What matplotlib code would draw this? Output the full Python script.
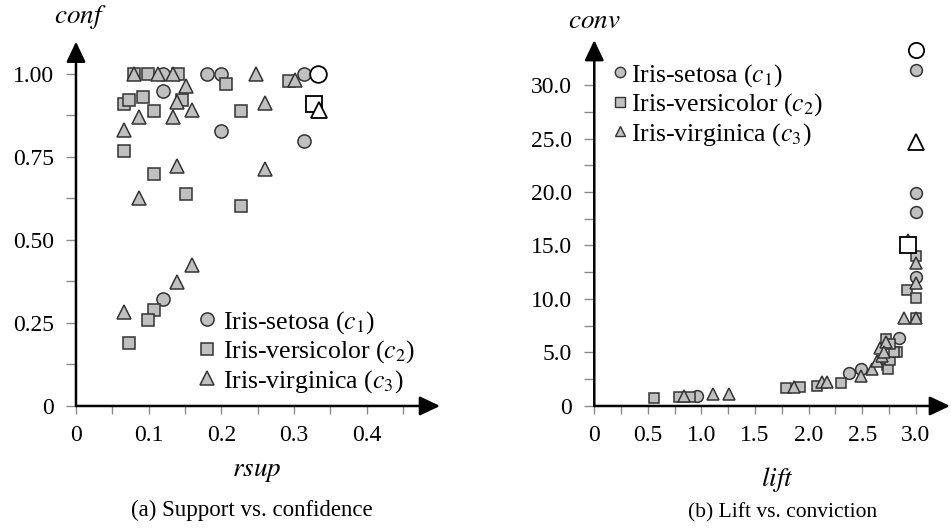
import numpy as np
import matplotlib
matplotlib.use('Agg')
import matplotlib.pyplot as plt
from matplotlib.lines import Line2D

plt.rcParams['font.family'] = ['Liberation Serif', 'DejaVu Serif']
plt.rcParams['mathtext.fontset'] = 'stix'
TICK_FS = 17
LEG_FS = 18.5
LAB_FS = 19.5
CAP_FS = 16.5

# (a) relative support vs confidence
setosa_rsup = [0.120, 0.120, 0.180, 0.200, 0.200, 0.313, 0.313, 0.120]
setosa_conf = [1.00, 0.949, 1.00, 1.00, 0.828, 1.00, 0.799, 0.321]
versicolor_rsup = [0.080, 0.0995, 0.140, 0.207, 0.293, 0.0665, 0.0726, 0.0926, 0.107,
                   0.146, 0.2265, 0.0665, 0.107, 0.152, 0.227, 0.107, 0.0995, 0.0726]
versicolor_conf = [1.00, 1.00, 1.00, 0.969, 0.979, 0.909, 0.920, 0.929, 0.889,
                   0.920, 0.889, 0.769, 0.699, 0.639, 0.603, 0.289, 0.259, 0.189]
virginica_rsup = [0.080, 0.113, 0.134, 0.247, 0.301, 0.152, 0.139, 0.160, 0.260,
                  0.087, 0.133, 0.0665, 0.139, 0.260, 0.087, 0.160, 0.139, 0.0665]
virginica_conf = [1.00, 1.00, 1.00, 1.00, 0.982, 0.962, 0.915, 0.892, 0.912,
                  0.871, 0.871, 0.831, 0.723, 0.713, 0.626, 0.423, 0.373, 0.282]
# highlighted rules (one per class)
best_rsup = [0.333, 0.328, 0.334]
best_conf = [1.00, 0.909, 0.892]

# (b) lift vs conviction
setosa_lift = [0.956, 2.38, 2.49, 2.84, 3.0, 3.0, 3.0, 3.0]
setosa_conv = [0.90, 3.05, 3.5, 6.4, 12.1, 18.1, 19.9, 31.4]
versicolor_lift = [0.56, 0.79, 0.89, 1.79, 1.92, 2.08, 2.30, 2.73, 2.74, 2.76, 2.82,
                   2.80, 2.72, 3.0, 2.92, 3.0, 3.0, 2.76]
versicolor_conv = [0.75, 0.84, 0.87, 1.65, 1.74, 1.90, 2.18, 3.8, 3.5, 4.3, 5.07,
                   5.0, 6.3, 8.2, 10.8, 10.1, 14.0, 5.8]
virginica_lift = [0.84, 1.11, 1.26, 1.86, 2.12, 2.17, 2.49, 2.59, 2.64, 2.68, 2.67,
                  2.72, 2.89, 3.0, 3.0, 3.0, 2.93, 2.70]
virginica_conv = [0.90, 1.09, 1.15, 1.74, 2.27, 2.27, 2.78, 3.5, 4.2, 4.7, 5.4,
                  6.0, 8.2, 8.2, 11.5, 13.4, 15.5, 5.0]
best_lift = [3.0, 2.93, 3.0]
best_conv = [33.3, 15.0, 24.7]

labels = ['Iris-setosa ($c_1$)', 'Iris-versicolor ($c_2$)', 'Iris-virginica ($c_3$)']
markers = ['o', 's', '^']
FILL = '#c0c0c0'
EDGE = '#333333'


def style_axes(ax, xmax, ymax, xmaj, xmin_t, ymaj, ymin_t, xfmt, yfmt):
    ax.set_xlim(0, xmax)
    ax.set_ylim(0, ymax)
    for s in ax.spines.values():
        s.set_visible(False)
    ax.set_xticks(xmaj)
    ax.set_xticklabels([xfmt(v) for v in xmaj])
    ax.set_xticks(xmin_t, minor=True)
    ax.set_yticks(ymaj)
    ax.set_yticklabels([yfmt(v) for v in ymaj])
    ax.set_yticks(ymin_t, minor=True)
    ax.tick_params(axis='both', which='both', color='#8a8a8a', width=1.0,
                   labelsize=TICK_FS, direction='out')
    ax.tick_params(axis='x', which='both', length=6, pad=8)
    ax.tick_params(axis='y', which='both', length=7, pad=9)
    arrow = dict(arrowstyle='-|>,head_length=0.95,head_width=0.45', color='black',
                 lw=1.8, mutation_scale=13, shrinkA=0, shrinkB=0)
    ax.annotate('', xy=(1, 0), xytext=(0, 0), xycoords='axes fraction',
                textcoords='axes fraction', arrowprops=arrow, annotation_clip=False)
    ax.annotate('', xy=(0, 1), xytext=(0, 0), xycoords='axes fraction',
                textcoords='axes fraction', arrowprops=arrow, annotation_clip=False)


fig = plt.figure(figsize=(9.51, 5.28), dpi=100)
ax1 = fig.add_axes([0.0799, 0.2311, 0.3828, 0.690])
ax2 = fig.add_axes([0.6249, 0.2311, 0.374, 0.693])

# left panel
series_a = [(setosa_rsup, setosa_conf), (versicolor_rsup, versicolor_conf),
            (virginica_rsup, virginica_conf)]
for (xs, ys), m in zip(series_a, markers):
    ax1.plot(xs, ys, m, ms=9.5 if m != 's' else 8.5, mfc=FILL, mec=EDGE, mew=1.1,
             ls='none', clip_on=False)
for x, y, m in zip(best_rsup, best_conf, markers):
    ax1.plot(x, y, m, ms=12, mfc='white', mec='black', mew=1.3, ls='none', clip_on=False)

style_axes(ax1, 0.5007, 1.097,
           [0, 0.1, 0.2, 0.3, 0.4], [0.05, 0.15, 0.25, 0.35, 0.45],
           [0, 0.25, 0.5, 0.75, 1.0], [0.125, 0.375, 0.625, 0.875],
           lambda v: '0' if v == 0 else f'{v:.1f}',
           lambda v: '0' if v == 0 else f'{v:.2f}')

h1 = [Line2D([], [], marker=m, ls='none', ms=9.5 if m != 's' else 8.5,
             mfc=FILL, mec=EDGE, mew=1.1) for m in markers]
ax1.legend(h1, labels, loc='upper left', bbox_to_anchor=(0.339, 0.266),
           frameon=False, fontsize=LEG_FS, handlelength=0.6, handletextpad=0.3,
           labelspacing=0.1, borderpad=0, borderaxespad=0)

fig.text(80 / 951, 1 - 17 / 528, '$conf$', fontsize=LAB_FS,
         ha='center', va='center')
fig.text(257 / 951, 1 - 472 / 528, '$rsup$', fontsize=LAB_FS,
         ha='center', va='center')
fig.text(252 / 951, 1 - 510 / 528, '(a) Support vs. confidence', fontsize=CAP_FS,
         ha='center', va='center')

# right panel
series_b = [(setosa_lift, setosa_conv), (versicolor_lift, versicolor_conv),
            (virginica_lift, virginica_conv)]
for (xs, ys), m in zip(series_b, markers):
    ax2.plot(xs, ys, m, ms=8.5 if m != 's' else 7.8, mfc=FILL, mec=EDGE, mew=1.1,
             ls='none', clip_on=False)
for x, y, m in zip(best_lift, best_conv, markers):
    ax2.plot(x, y, m, ms=11, mfc='white', mec='black', mew=1.3, ls='none', clip_on=False)

style_axes(ax2, 3.318, 34.2,
           [0, 0.5, 1.0, 1.5, 2.0, 2.5, 3.0], list(np.arange(0.25, 3.0, 0.5)),
           [0, 5, 10, 15, 20, 25, 30], list(np.arange(2.5, 30, 5)),
           lambda v: '0' if v == 0 else f'{v:.1f}',
           lambda v: '0' if v == 0 else f'{v:.1f}')

h2 = [Line2D([], [], marker=m, ls='none', ms=7.5 if m != 's' else 7,
             mfc=FILL, mec=EDGE, mew=1.0) for m in markers]
ax2.legend(h2, labels, loc='upper left', bbox_to_anchor=(0.054, 0.94),
           frameon=False, fontsize=LEG_FS, handlelength=0.5, handletextpad=0.2,
           labelspacing=0.1, borderpad=0, borderaxespad=0)

fig.text(594 / 951, 1 - 22 / 528, '$conv$', fontsize=LAB_FS,
         ha='center', va='center')
fig.text(777 / 951, 1 - 479 / 528, '$lift$', fontsize=LAB_FS,
         ha='center', va='center')
fig.text(783 / 951, 1 - 513 / 528, '(b) Lift vs. conviction', fontsize=CAP_FS - 1,
         ha='center', va='center')

fig.savefig('out.png', dpi=100)
